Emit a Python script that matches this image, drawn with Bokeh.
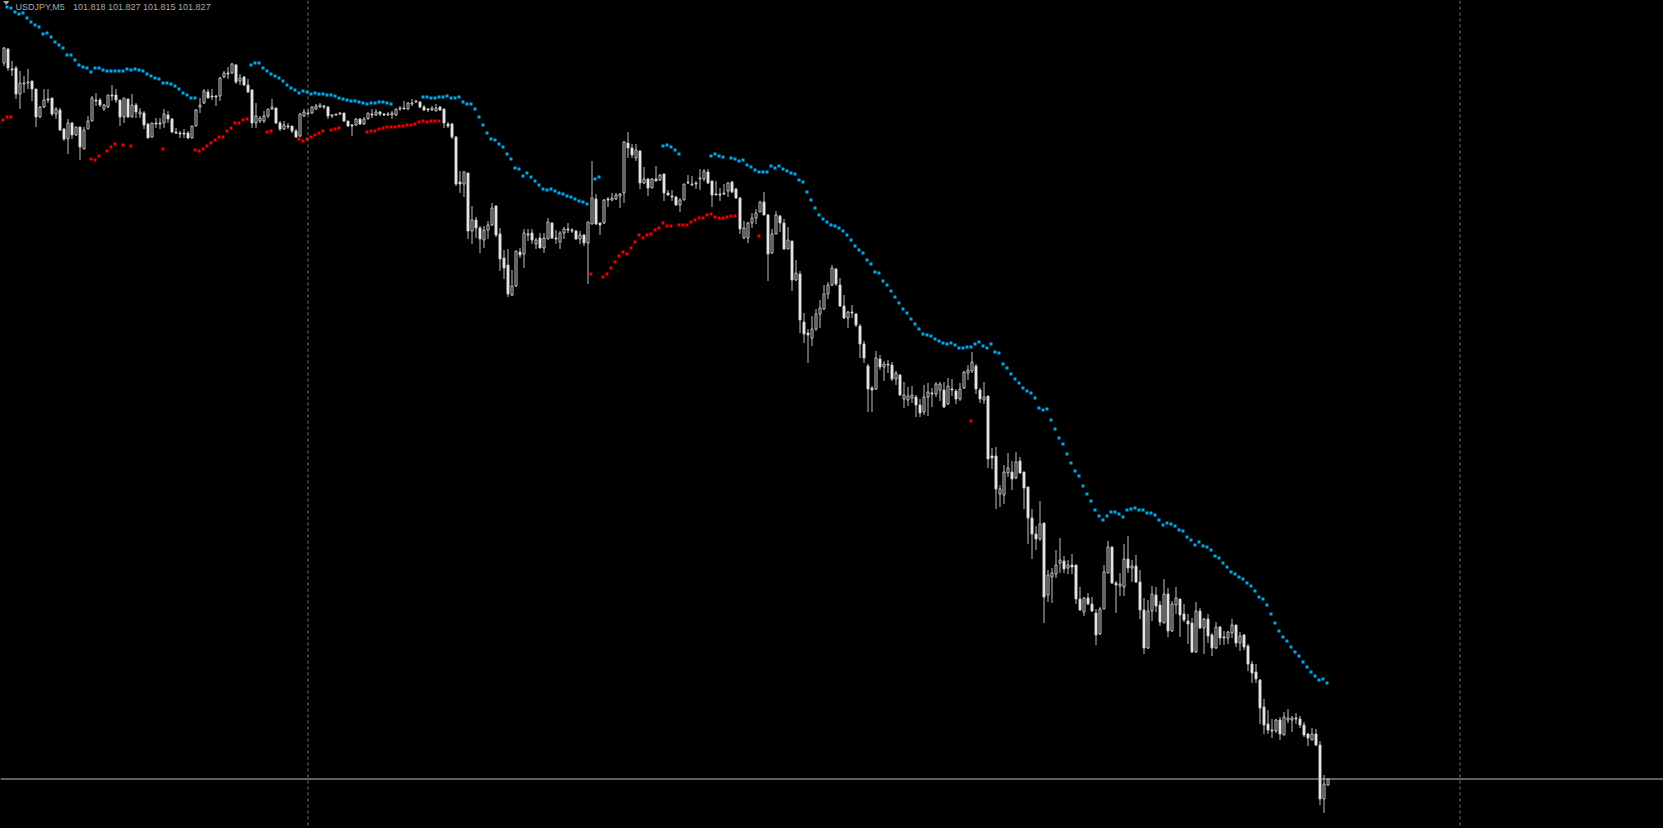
import numpy as np
from bokeh.plotting import figure
from bokeh.models import Range1d, ColumnDataSource, Span, Label
from bokeh.embed import file_html
from bokeh.resources import INLINE

symbol = "USDJPY,M5"
quote = "101.818 101.827 101.815 101.827"
bid = 101.827
day_separators = [76, 364]

opens = [
102.543,102.557,102.537,102.538,102.512,102.522,102.523,102.525,102.517,102.489,
102.499,102.507,102.508,102.492,102.496,102.477,102.467,102.483,102.471,102.479,
102.457,102.477,102.485,102.506,102.506,102.497,102.499,102.511,102.511,102.506,
102.489,102.507,102.489,102.501,102.492,102.493,102.482,102.469,102.483,102.483,
102.483,102.491,102.487,102.474,102.473,102.473,102.473,102.468,102.480,102.499,
102.503,102.514,102.510,102.510,102.510,102.529,102.533,102.533,102.541,102.525,
102.529,102.521,102.516,102.483,102.485,102.485,102.490,102.497,102.498,102.483,
102.477,102.480,102.480,102.475,102.470,102.490,102.493,102.493,102.497,102.499,
102.500,102.499,102.490,102.491,102.492,102.493,102.485,102.481,102.481,102.487,
102.482,102.487,102.492,102.491,102.494,102.492,102.491,102.491,102.491,102.497,
102.498,102.497,102.502,102.504,102.504,102.499,102.497,102.496,102.495,102.499,
102.497,102.482,102.482,102.469,102.424,102.422,102.433,102.375,102.386,102.378,
102.366,102.376,102.381,102.400,102.372,102.348,102.341,102.311,102.320,102.354,
102.352,102.372,102.373,102.362,102.368,102.358,102.367,102.383,102.368,102.364,
102.373,102.377,102.376,102.375,102.367,102.371,102.363,102.382,102.407,102.383,
102.383,102.407,102.406,102.407,102.410,102.413,102.463,102.458,102.448,102.455,
102.423,102.427,102.418,102.427,102.426,102.432,102.413,102.410,102.409,102.401,
102.406,102.423,102.421,102.423,102.427,102.427,102.434,102.425,102.412,102.412,
102.413,102.415,102.424,102.417,102.408,102.368,102.368,102.383,102.388,102.394,
102.404,102.391,102.353,102.372,102.390,102.383,102.357,102.365,102.326,102.332,
102.284,102.273,102.268,102.277,102.292,102.297,102.312,102.321,102.337,102.321,
102.300,102.288,102.294,102.292,102.280,102.262,102.240,102.218,102.217,102.247,
102.239,102.242,102.241,102.227,102.231,102.207,102.206,102.208,102.209,102.201,
102.194,102.209,102.213,102.212,102.216,102.216,102.202,102.217,102.215,102.207,
102.218,102.233,102.235,102.240,102.216,102.206,102.210,102.150,102.150,102.112,
102.111,102.133,102.134,102.128,102.145,102.134,102.119,102.088,102.072,102.067,
102.083,102.011,102.029,102.032,102.043,102.045,102.038,102.041,102.041,102.007,
101.994,102.008,102.002,101.993,101.972,101.997,102.033,102.059,102.023,102.020,
102.019,102.047,102.038,102.040,102.024,101.996,101.958,101.995,102.011,102.001,
101.983,102.012,101.975,102.001,102.007,101.992,101.985,101.983,101.954,101.995,
101.978,101.987,101.971,101.958,101.979,101.969,101.968,101.973,101.981,101.963,
101.971,101.960,101.942,101.934,101.926,101.899,101.882,101.876,101.875,101.886,
101.871,101.886,101.886,101.888,101.887,101.881,101.872,101.866,101.872,101.861,
101.807,101.821]

highs = [
102.559,102.558,102.545,102.540,102.535,102.530,102.537,102.525,102.517,102.500,
102.517,102.517,102.508,102.499,102.498,102.478,102.487,102.484,102.479,102.479,
102.479,102.490,102.510,102.513,102.508,102.502,102.511,102.521,102.517,102.506,
102.508,102.507,102.512,102.503,102.498,102.495,102.483,102.483,102.488,102.488,
102.497,102.495,102.488,102.478,102.475,102.477,102.475,102.480,102.497,102.508,
102.517,102.517,102.517,102.511,102.529,102.535,102.539,102.543,102.542,102.532,
102.530,102.527,102.517,102.503,102.490,102.495,102.497,102.507,102.498,102.485,
102.485,102.483,102.480,102.477,102.493,102.497,102.497,102.500,102.502,102.503,
102.501,102.500,102.492,102.492,102.494,102.493,102.485,102.482,102.488,102.488,
102.489,102.493,102.497,102.497,102.495,102.493,102.494,102.495,102.497,102.500,
102.505,102.504,102.507,102.506,102.505,102.501,102.498,102.500,102.502,102.500,
102.497,102.484,102.483,102.470,102.435,102.435,102.433,102.400,102.389,102.380,
102.380,102.385,102.403,102.401,102.378,102.356,102.357,102.336,102.355,102.358,
102.377,102.377,102.377,102.368,102.373,102.373,102.388,102.384,102.376,102.375,
102.379,102.383,102.378,102.376,102.375,102.372,102.384,102.445,102.412,102.383,
102.407,102.409,102.413,102.413,102.413,102.465,102.474,102.462,102.462,102.456,
102.439,102.428,102.428,102.440,102.432,102.432,102.416,102.416,102.410,102.408,
102.422,102.431,102.430,102.425,102.437,102.437,102.437,102.425,102.425,102.418,
102.422,102.424,102.425,102.418,102.409,102.385,102.384,102.393,102.397,102.405,
102.414,102.392,102.377,102.395,102.391,102.387,102.379,102.365,102.346,102.335,
102.293,102.277,102.290,102.297,102.306,102.321,102.324,102.341,102.338,102.328,
102.311,102.295,102.301,102.293,102.282,102.265,102.242,102.220,102.255,102.251,
102.245,102.246,102.244,102.235,102.232,102.224,102.219,102.220,102.211,102.207,
102.221,102.223,102.218,102.224,102.224,102.224,102.228,102.227,102.217,102.223,
102.235,102.241,102.254,102.242,102.218,102.224,102.210,102.158,102.159,102.121,
102.141,102.153,102.145,102.154,102.149,102.134,102.119,102.097,102.080,102.105,
102.083,102.036,102.038,102.056,102.068,102.050,102.046,102.052,102.041,102.019,
102.009,102.013,102.009,101.997,101.999,102.041,102.065,102.059,102.025,102.033,
102.062,102.070,102.046,102.051,102.036,102.008,102.006,102.020,102.019,102.005,
102.027,102.018,102.005,102.019,102.007,102.002,101.992,101.988,102.004,101.998,
101.988,101.992,101.973,101.984,101.980,101.975,101.975,101.987,101.981,101.974,
101.972,101.962,101.945,101.942,101.927,101.907,101.896,101.887,101.887,101.889,
101.894,101.897,101.890,101.893,101.890,101.884,101.873,101.878,101.877,101.865,
101.831,101.827]

lows = [
102.540,102.535,102.530,102.507,102.497,102.513,102.517,102.505,102.479,102.488,
102.498,102.503,102.490,102.487,102.475,102.465,102.452,102.467,102.470,102.446,
102.457,102.477,102.485,102.500,102.499,102.495,102.498,102.505,102.503,102.480,
102.483,102.488,102.489,102.488,102.488,102.477,102.468,102.468,102.478,102.477,
102.478,102.483,102.473,102.472,102.468,102.468,102.467,102.468,102.480,102.493,
102.502,102.508,102.506,102.500,102.505,102.528,102.527,102.532,102.522,102.521,
102.520,102.513,102.478,102.478,102.483,102.483,102.488,102.496,102.482,102.475,
102.476,102.477,102.473,102.468,102.469,102.489,102.492,102.492,102.496,102.498,
102.497,102.487,102.488,102.490,102.491,102.484,102.479,102.470,102.480,102.481,
102.481,102.487,102.488,102.490,102.490,102.490,102.490,102.487,102.490,102.495,
102.497,102.496,102.500,102.503,102.498,102.495,102.494,102.495,102.495,102.495,
102.478,102.478,102.467,102.420,102.413,102.409,102.367,102.362,102.368,102.353,
102.358,102.367,102.380,102.369,102.335,102.327,102.309,102.310,102.319,102.348,
102.338,102.365,102.362,102.357,102.358,102.353,102.367,102.367,102.362,102.357,
102.367,102.373,102.373,102.366,102.362,102.360,102.322,102.382,102.381,102.371,
102.382,102.399,102.405,102.406,102.398,102.403,102.448,102.448,102.445,102.417,
102.422,102.410,102.418,102.425,102.425,102.405,102.410,102.405,102.400,102.394,
102.406,102.422,102.420,102.417,102.416,102.425,102.422,102.399,102.411,102.405,
102.411,102.409,102.413,102.407,102.372,102.367,102.363,102.378,102.382,102.394,
102.391,102.325,102.352,102.372,102.374,102.356,102.357,102.315,102.325,102.273,
102.263,102.243,102.260,102.275,102.278,102.296,102.307,102.320,102.320,102.299,
102.287,102.278,102.288,102.279,102.248,102.243,102.194,102.194,102.216,102.236,
102.225,102.233,102.225,102.221,102.210,102.198,102.200,102.203,102.189,102.189,
102.191,102.190,102.199,102.209,102.205,102.198,102.201,102.210,102.202,102.205,
102.217,102.226,102.233,102.212,102.203,102.202,102.138,102.137,102.097,102.099,
102.102,102.129,102.116,102.127,102.132,102.097,102.062,102.047,102.056,102.065,
101.983,102.004,102.003,102.028,102.033,102.033,102.032,102.032,102.002,101.995,
101.990,102.001,101.994,101.961,101.971,101.997,102.033,102.022,101.993,102.010,
102.010,102.033,102.024,102.023,101.987,101.952,101.957,101.985,101.994,101.980,
101.983,101.969,101.974,101.992,101.969,101.984,101.962,101.953,101.953,101.977,
101.952,101.963,101.950,101.957,101.961,101.961,101.962,101.968,101.959,101.955,
101.956,101.935,101.923,101.923,101.882,101.872,101.872,101.868,101.873,101.866,
101.871,101.883,101.874,101.882,101.878,101.869,101.860,101.866,101.860,101.801,
101.793,101.820]

closes = [
102.558,102.538,102.536,102.512,102.523,102.523,102.524,102.517,102.489,102.499,
102.506,102.506,102.492,102.497,102.476,102.467,102.483,102.471,102.479,102.459,
102.476,102.485,102.508,102.505,102.501,102.501,102.511,102.510,102.506,102.489,
102.508,102.489,102.501,102.494,102.494,102.481,102.468,102.483,102.482,102.482,
102.492,102.487,102.474,102.473,102.472,102.472,102.468,102.480,102.496,102.501,
102.515,102.508,102.509,102.509,102.528,102.533,102.532,102.542,102.524,102.528,
102.521,102.514,102.483,102.490,102.488,102.490,102.497,102.499,102.483,102.477,
102.481,102.479,102.475,102.469,102.492,102.494,102.492,102.499,102.500,102.501,
102.499,102.490,102.491,102.492,102.493,102.485,102.480,102.480,102.487,102.482,
102.487,102.493,102.491,102.494,102.492,102.491,102.492,102.493,102.497,102.498,
102.497,102.503,102.503,102.505,102.499,102.496,102.496,102.498,102.498,102.496,
102.483,102.480,102.469,102.422,102.422,102.434,102.375,102.386,102.378,102.367,
102.376,102.381,102.398,102.371,102.347,102.338,102.312,102.320,102.355,102.351,
102.373,102.371,102.366,102.366,102.358,102.368,102.384,102.368,102.367,102.373,
102.377,102.376,102.375,102.367,102.371,102.363,102.384,102.408,102.382,102.381,
102.406,102.406,102.408,102.411,102.412,102.464,102.458,102.451,102.456,102.423,
102.427,102.418,102.427,102.425,102.431,102.413,102.411,102.409,102.401,102.406,
102.422,102.424,102.422,102.422,102.428,102.435,102.423,102.411,102.411,102.411,
102.412,102.423,102.414,102.408,102.377,102.378,102.383,102.388,102.393,102.404,
102.391,102.352,102.372,102.391,102.383,102.357,102.366,102.326,102.333,102.286,
102.272,102.271,102.277,102.292,102.298,102.312,102.321,102.338,102.322,102.300,
102.288,102.294,102.293,102.281,102.262,102.248,102.217,102.216,102.248,102.239,
102.242,102.241,102.227,102.233,102.211,102.211,102.210,102.211,102.201,102.193,
102.209,102.214,102.212,102.222,102.222,102.199,102.220,102.216,102.207,102.217,
102.234,102.236,102.244,102.217,102.207,102.209,102.147,102.148,102.117,102.117,
102.134,102.138,102.127,102.144,102.133,102.118,102.088,102.072,102.067,102.082,
102.009,102.031,102.033,102.041,102.046,102.037,102.041,102.039,102.007,101.996,
102.008,102.002,101.995,101.971,101.997,102.034,102.059,102.023,102.021,102.022,
102.047,102.038,102.040,102.024,101.996,101.958,101.995,102.012,102.000,101.984,
102.012,101.975,102.002,102.008,101.991,101.986,101.982,101.954,101.995,101.978,
101.987,101.970,101.958,101.979,101.968,101.968,101.974,101.981,101.963,101.970,
101.959,101.942,101.933,101.927,101.898,101.881,101.876,101.875,101.886,101.872,
101.889,101.888,101.888,101.887,101.881,101.871,101.868,101.872,101.861,101.807,
101.822,101.827]

# indicator dots: (first bar index, consecutive values)
upper_runs = [
    (1, [102.599,102.598,102.594,102.592,102.593,102.588,102.584,102.581,102.579,102.572,
         102.573,102.569,102.564,102.561,102.558,102.551,102.551,102.546,102.541,102.539,
         102.538,102.534,102.538,102.538,102.536,102.535,102.535,102.535,102.535,102.535,
         102.537,102.536,102.537,102.536,102.535,102.532,102.530,102.528,102.527,102.523,
         102.523,102.522,102.520,102.517,102.513,102.511,102.508,102.508]),
    (62, [102.541,102.543,102.543,102.538,102.535,102.532,102.530,102.528,102.525,102.521,
          102.518,102.516,102.513,102.515,102.514,102.512,102.513,102.512,102.512,102.511,
          102.511,102.510,102.508,102.507,102.506,102.505,102.505,102.504,102.503,102.502,
          102.503,102.503,102.504,102.504,102.503,102.502]),
    (105, [102.509,102.509,102.508,102.508,102.509,102.509,102.510,102.508,102.508,102.509,
           102.504,102.502,102.502,102.497,102.489,102.481,102.473,102.467,102.466,102.462,
           102.459,102.452,102.447,102.438,102.437,102.430,102.433,102.429,102.425,102.421,
           102.417,102.416,102.417,102.415,102.413,102.412,102.410,102.409,102.407,102.405,
           102.404,102.402]),
    (148, [102.427,102.429]),
    (165, [102.460,102.461,102.459,102.456,102.452]),
    (177, [102.450,102.452,102.450,102.449]),
    (182, [102.448,102.447,102.445,102.446,102.441,102.439,102.436,102.434,102.434,102.434,
           102.440,102.438,102.440,102.437,102.435,102.433,102.432,102.426,102.424,102.414,
           102.406,102.398,102.391,102.387,102.384,102.381,102.380,102.378,102.375,102.371,
           102.366,102.360,102.356,102.353,102.346,102.342,102.334,102.333,102.325,102.321,
           102.315,102.309,102.303,102.297,102.293,102.287,102.282,102.277,102.272,102.271,
           102.270,102.267,102.265,102.263,102.262,102.263,102.261,102.258,102.258,102.259,
           102.259,102.262,102.264,102.260,102.258,102.262,102.254,102.253,102.242,102.238,
           102.232,102.227,102.223,102.218,102.215,102.213,102.208,102.198,102.196,102.197,
           102.186,102.177,102.168,102.162,102.152,102.143,102.135,102.130,102.120,102.112,
           102.105,102.096,102.090,102.086,102.090,102.094,102.094,102.092,102.089,102.096,
           102.097,102.098,102.096,102.096,102.093,102.093,102.091,102.086,102.081,102.083,
           102.082,102.080,102.076,102.075,102.069,102.066,102.061,102.064,102.060,102.059,
           102.056,102.050,102.048,102.043,102.039,102.034,102.032,102.029,102.027,102.023,
           102.020,102.015,102.009,102.007,102.001,101.992,101.983,101.975,101.969,101.965,
           101.959,101.954,101.950,101.944,101.939,101.934,101.930,101.926,101.927,101.923]),
]

lower_runs = [
    (0, [102.486,102.489,102.489]),
    (22, [102.447,102.446,102.450]),
    (26, [102.455,102.459,102.462]),
    (30, [102.461]),
    (32, [102.460]),
    (40, [102.457]),
    (48, [102.456,102.455,102.457,102.460,102.463,102.466,102.469,102.469,102.475,102.478,
          102.483,102.483,102.486,102.487]),
    (66, [102.474,102.475]),
    (74, [102.467,102.465,102.467,102.469,102.471,102.473,102.475]),
    (82, [102.476,102.477,102.478]),
    (91, [102.474,102.475,102.475,102.477,102.478,102.479,102.479,102.479,102.480,102.480,
          102.481,102.481,102.482,102.484,102.485,102.484,102.485,102.485,102.485]),
    (147, [102.332]),
    (150, [102.329,102.332,102.338,102.344,102.350,102.354,102.352,102.358,102.364,102.371,
           102.368,102.371,102.372,102.376,102.378,102.383,102.380,102.380]),
    (169, [102.381,102.381,102.381,102.384,102.386,102.388,102.388,102.391,102.392,102.389,
           102.388,102.388,102.389,102.390,102.390]),
    (189, [102.370]),
    (242, [102.185]),
]

# ---------------- layout / styling ----------------
W, H = 1663, 828
PX_PER_BAR = 4.0
PRICE_PER_PX = 0.001
X_START = -0.875                 # bar 0 centred on pixel column 3
Y_TOP = 102.6055                 # price at the top edge of the window

BG = "#000000"
WICK = "#c0c0c0"
BODY_LINE = "#c8c8c8"
BEAR_FILL = "#ffffff"
BULL_FILL = "#000000"
UPPER_COLOR = "#00a8ec"
LOWER_COLOR = "#ee0000"
TEXT_COLOR = "#a8a8a8"

def px_to_x(px):
    return X_START + px / PX_PER_BAR

def py_to_price(py):
    return Y_TOP - py * PRICE_PER_PX

p = figure(width=W, height=H, output_backend="svg", toolbar_location=None,
           x_range=Range1d(X_START, X_START + W / PX_PER_BAR),
           y_range=Range1d(Y_TOP - H * PRICE_PER_PX, Y_TOP),
           x_axis_location=None, y_axis_location=None,
           background_fill_color=BG, border_fill_color=BG,
           outline_line_color=None, min_border=0)
p.outline_line_alpha = 0
p.xgrid.visible = False
p.ygrid.visible = False
p.title.visible = False

o = np.array(opens); h = np.array(highs); l = np.array(lows); c = np.array(closes)
idx = np.arange(len(o))
bull = c > o

src = ColumnDataSource(dict(
    x=idx, high=h, low=l,
    top=np.maximum(o, c), bottom=np.minimum(o, c),
    fill=np.where(bull, BULL_FILL, BEAR_FILL),
))

# separators & bid line (behind candles)
for s in day_separators:
    p.add_layout(Span(location=s, dimension="height", line_color="#7a7a7a",
                      line_width=1, line_dash="3 3"))
p.add_layout(Span(location=bid, dimension="width", line_color="#c0c0c0", line_width=1))

p.segment(x0="x", y0="low", x1="x", y1="high", source=src, line_color=WICK, line_width=1)
p.vbar(x="x", width=2 / PX_PER_BAR, top="top", bottom="bottom", source=src,
       fill_color="fill", line_color=BODY_LINE, line_width=1)

def expand(runs):
    xs, ys = [], []
    for start, vals in runs:
        for k, v in enumerate(vals):
            xs.append(start + k)
            ys.append(v)
    return np.array(xs, dtype=float), np.array(ys)

dot_w = 3 / PX_PER_BAR
dot_h = 3 * PRICE_PER_PX
dot_shift = -1 / PX_PER_BAR
ux, uy = expand(upper_runs)
lx, ly = expand(lower_runs)
p.rect(x=ux + dot_shift, y=uy, width=dot_w, height=dot_h,
       fill_color=UPPER_COLOR, line_color=None)
p.rect(x=lx + dot_shift, y=ly, width=dot_w, height=dot_h,
       fill_color=LOWER_COLOR, line_color=None)

# header: collapse triangle + symbol + OHLC
p.patch(x=[px_to_x(2.5), px_to_x(9.0), px_to_x(5.75)],
        y=[py_to_price(0.5), py_to_price(0.5), py_to_price(4.5)],
        fill_color=TEXT_COLOR, line_color=None)
p.add_layout(Label(x=15, y=H - 6.8, x_units="screen", y_units="screen", text=symbol,
                   text_font="Liberation Sans", text_font_size="9px",
                   text_color=TEXT_COLOR, text_baseline="alphabetic"))
p.add_layout(Label(x=72.5, y=H - 6.8, x_units="screen", y_units="screen", text=quote,
                   text_font="Liberation Sans", text_font_size="9px",
                   text_color=TEXT_COLOR, text_baseline="alphabetic"))

html = file_html(p, INLINE)
html = html.replace("<body>", '<body style="margin:0;background:#000000;overflow:hidden">', 1)
html = html.replace("<head>", '<head><style>html{background:#000000;}</style>', 1)
open("out.html", "w").write(html)
